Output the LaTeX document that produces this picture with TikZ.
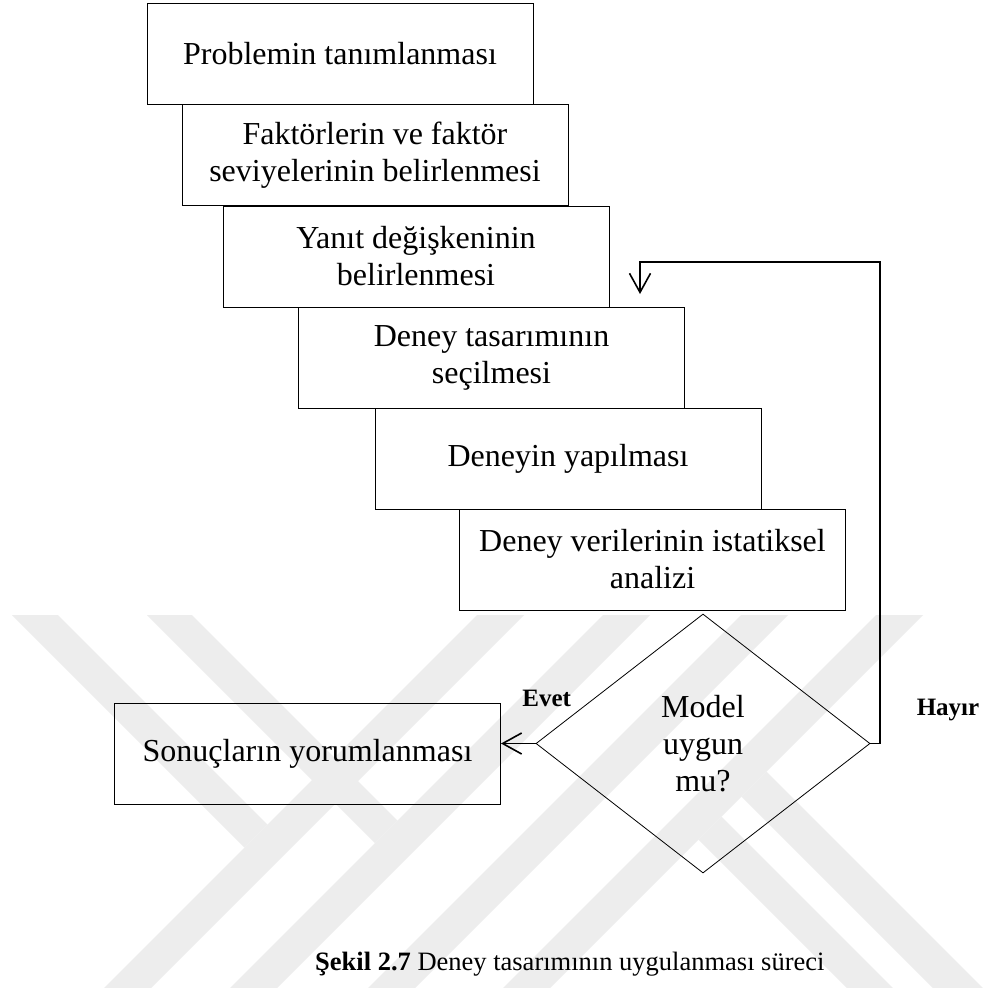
\documentclass[tikz,border=0pt]{standalone}
\usepackage{fontspec}
\setmainfont{Liberation Serif}
\usetikzlibrary{shapes.geometric,arrows.meta,calc}
\begin{document}
\begin{tikzpicture}[x=1pt,y=-1pt,
  wm/.style={fill=black!7,draw=none},
  stepbox/.style={draw,line width=1pt,minimum width=386pt,minimum height=101pt,inner sep=0pt,align=center,font=\fontsize{32}{37}\selectfont},
  decision/.style={draw,diamond,line width=0.8pt,minimum width=334pt,minimum height=259pt,inner sep=0pt,align=center,font=\fontsize{32}{37}\selectfont},
  flow/.style={line width=1.8pt,line join=miter,-{Straight Barb[length=19pt,width=21pt,line width=1.6pt]}},
  lbl/.style={font=\fontsize{25}{30}\selectfont\bfseries,inner sep=0pt,anchor=base},
]
\useasboundingbox (0,0) rectangle (984,988);
\fill[white] (0,0) rectangle (984,988);
% watermark
\fill[wm] (12,615) -- (58,615) -- (267.5,824.5) -- (244.5,847.5) -- cycle;
\fill[wm] (147,615) -- (192,615) -- (397.5,820.5) -- (375,843) -- cycle;
\fill[wm] (477,615) -- (524,615) -- (151,988) -- (104,988) -- cycle;
\fill[wm] (603,615) -- (650,615) -- (277,988) -- (230,988) -- cycle;
\fill[wm] (741,615) -- (788,615) -- (415,988) -- (368,988) -- cycle;
\fill[wm] (876,615) -- (923,615) -- (550,988) -- (503,988) -- cycle;
\fill[wm] (741.5,796.5) -- (766.5,771.5) -- (983,988) -- (933,988) -- cycle;
\fill[wm] (698.5,839.5) -- (721.5,816.5) -- (893,988) -- (847,988) -- cycle;
% boxes
\node[stepbox] (p) at (340,54) {Problemin tanımlanması};
\node[stepbox] (f) at (375,155) {Faktörlerin ve faktör\\seviyelerinin belirlenmesi};
\node[stepbox] (y) at (416,256.5) {Yanıt değişkeninin\\belirlenmesi};
\node[stepbox] (d) at (491.5,357.5) {Deney tasarımının\\seçilmesi};
\node[stepbox] (dy) at (568,458.5) {Deneyin yapılması};
\node[stepbox] (dv) at (652.5,559.5) {Deney verilerinin istatiksel\\analizi};
\node[decision] (m) at (703,743.5) {Model\\uygun\\mu?};
\node[stepbox] (s) at (307.5,753.5) {Sonuçların yorumlanması};
% connectors
\draw[flow] (m.west) -- (m.west -| s.east);
\coordinate (rx) at (880,262);
\coordinate (tip) at (640,294);
\draw[flow] (m.east) -| (rx) -- (tip |- rx) -- (tip);
% labels
\node[lbl] (evet) at (546.7,706) {Evet};
\node[lbl] (hayir) at (948,715) {Hayır};
\node[anchor=base west,inner sep=0pt,font=\fontsize{26.5}{30}\selectfont] (cap) at (315,970) {\textbf{Şekil 2.7} Deney tasarımının uygulanması süreci};
\end{tikzpicture}
\end{document}
